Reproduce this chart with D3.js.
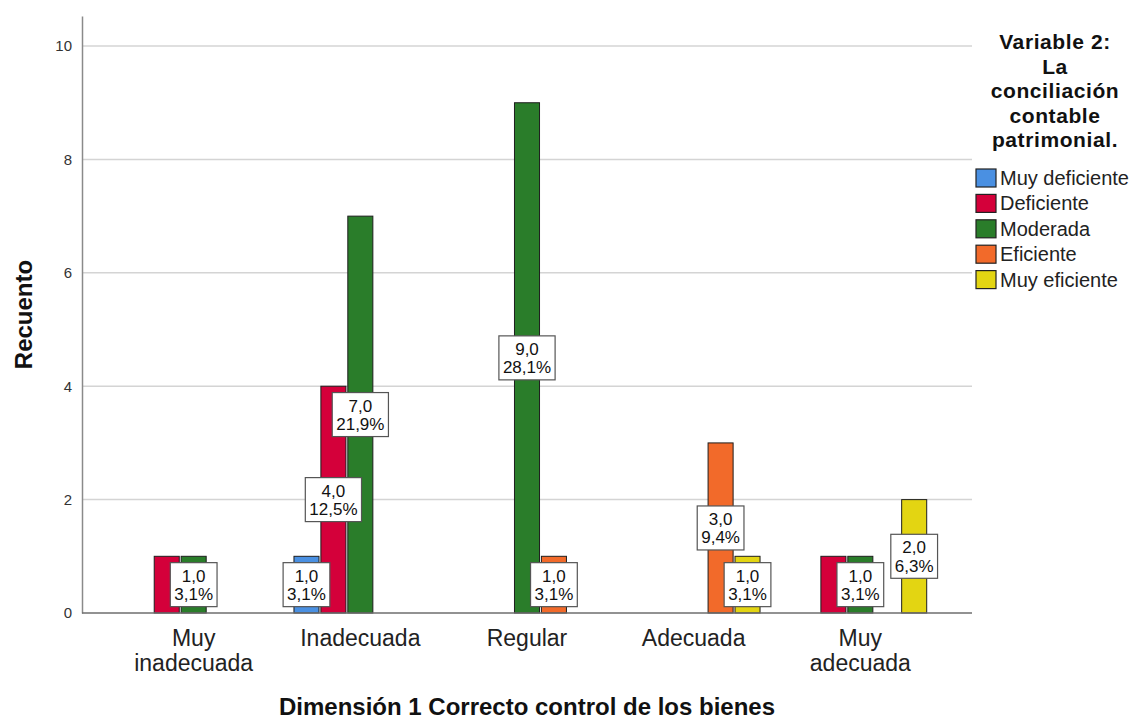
<!DOCTYPE html>
<html>
<head>
<meta charset="utf-8">
<script src="https://cdn.jsdelivr.net/npm/d3@7/dist/d3.min.js"></script>
<style>
  body { margin: 0; background: #fff; }
  svg { display: block; font-family: "Liberation Sans", Arial, sans-serif; }
</style>
</head>
<body>
<svg id="chart"></svg>
<script>
// categories on the x axis
const categories = ["Muy inadecuada", "Inadecuada", "Regular", "Adecuada", "Muy adecuada"];
// legend series
const series = ["Muy deficiente", "Deficiente", "Moderada", "Eficiente", "Muy eficiente"];
const seriesColors = ["#4a90e2", "#d4003a", "#2a7d2a", "#f26a2a", "#e3d512"];
// counts per series, one value per category
const muyDeficiente = [0, 1, 0, 0, 0];
const deficiente    = [1, 4, 0, 0, 1];
const moderada      = [1, 7, 9, 0, 1];
const eficiente     = [0, 0, 1, 3, 0];
const muyEficiente  = [0, 0, 0, 1, 2];
const yTicks = [0, 2, 4, 6, 8, 10];
const legendTitle = ["Variable 2:", "La", "conciliación", "contable", "patrimonial."];
const xTitle = "Dimensión 1 Correcto control de los bienes";
const yTitle = "Recuento";

const values = [muyDeficiente, deficiente, moderada, eficiente, muyEficiente];
const total = d3.sum(values.flat());

const W = 1132, H = 722;
const margin = {top: 16, right: 160, bottom: 109, left: 82};
const innerW = W - margin.left - margin.right;
const innerH = H - margin.top - margin.bottom;

const svg = d3.select("#chart").attr("width", W).attr("height", H);
const g = svg.append("g").attr("transform", `translate(${margin.left},${margin.top})`);

const x = d3.scaleBand().domain(categories).range([0, innerW]).paddingInner(0).paddingOuter(0.17);
const xs = d3.scaleBand().domain(series).range([0, x.bandwidth()]).paddingInner(0.07).paddingOuter(0.63);
const y = d3.scaleLinear().domain([0, 10.53]).range([innerH, 0]);
const color = d3.scaleOrdinal().domain(series).range(seriesColors);

// gridlines
g.append("g")
    .selectAll("line")
    .data(yTicks.filter(d => d > 0))
    .join("line")
    .attr("x1", 0).attr("x2", innerW)
    .attr("y1", d => y(d)).attr("y2", d => y(d))
    .style("stroke", "#d4d4d4")
    .style("stroke-width", 1.5);

// y axis
const yAxis = g.append("g")
    .call(d3.axisLeft(y).tickValues(yTicks).tickSize(0).tickPadding(10).tickFormat(d3.format("d")));
yAxis.select(".domain").style("stroke", "#8a8a8a").style("stroke-width", 1.5);
yAxis.selectAll("text").style("font-size", "15px").style("fill", "#333").style("font-family", "Liberation Sans, Arial, sans-serif");

// bars
const rows = [];
categories.forEach((c, ci) => {
    series.forEach((s, si) => {
        const v = values[si][ci];
        if (v > 0) rows.push({cat: c, ser: s, value: v});
    });
});

g.append("g")
    .selectAll("rect")
    .data(rows)
    .join("rect")
    .attr("x", d => x(d.cat) + xs(d.ser))
    .attr("y", d => y(d.value))
    .attr("width", xs.bandwidth())
    .attr("height", d => y(0) - y(d.value))
    .style("fill", d => color(d.ser))
    .style("stroke", "#1e1e1e")
    .style("stroke-width", 1);

// x axis line
g.append("line")
    .attr("x1", 0).attr("x2", innerW)
    .attr("y1", y(0)).attr("y2", y(0))
    .style("stroke", "#6e6e6e")
    .style("stroke-width", 1.5);

// category labels
const catLab = g.append("g").selectAll("text")
    .data(categories)
    .join("text")
    .attr("x", d => x(d) + x.bandwidth() / 2)
    .attr("y", innerH + 33)
    .attr("text-anchor", "middle")
    .style("font-size", "23px")
    .style("fill", "#222");
catLab.each(function(d) {
    const parts = d.split(" ");
    d3.select(this).selectAll("tspan")
        .data(parts)
        .join("tspan")
        .attr("x", x(d) + x.bandwidth() / 2)
        .attr("dy", (p, i) => i === 0 ? 0 : 25)
        .text(p => p);
});

// data labels (boxes), drop earlier label when two boxes collide
const fmt = v => d3.format(".1f")(v).replace(".", ",");
const labels = rows.map(d => {
    const cx = x(d.cat) + xs(d.ser) + xs.bandwidth() / 2;
    const cy = (y(d.value) + y(0)) / 2;
    return {cx, cy, l1: fmt(d.value), l2: fmt(d.value / total * 100) + "%"};
});
const lg = g.append("g");
const kept = [];
labels.forEach(lb => {
    const t = lg.append("text").style("font-size", "17px").style("fill", "#111").attr("text-anchor", "middle");
    t.append("tspan").attr("x", lb.cx).attr("y", lb.cy - 3).text(lb.l1);
    t.append("tspan").attr("x", lb.cx).attr("y", lb.cy + 15.5).text(lb.l2);
    const bw = t.node().getBBox().width + 8;
    lb.box = {x0: lb.cx - bw / 2, x1: lb.cx + bw / 2, y0: lb.cy - 22, y1: lb.cy + 22};
    lb.node = t;
    for (let i = kept.length - 1; i >= 0; i--) {
        const o = kept[i].box;
        if (o.x0 < lb.box.x1 && lb.box.x0 < o.x1 && o.y0 < lb.box.y1 && lb.box.y0 < o.y1) {
            kept[i].node.remove();
            kept.splice(i, 1);
        }
    }
    kept.push(lb);
});
kept.forEach(lb => {
    lg.insert("rect", () => lb.node.node())
        .attr("x", lb.box.x0).attr("y", lb.box.y0)
        .attr("width", lb.box.x1 - lb.box.x0).attr("height", lb.box.y1 - lb.box.y0)
        .style("fill", "#fff")
        .style("stroke", "#555")
        .style("stroke-width", 1.2);
});

// axis titles
svg.append("text")
    .attr("x", margin.left + innerW / 2)
    .attr("y", 715)
    .attr("text-anchor", "middle")
    .style("font-size", "24px")
    .style("font-weight", "bold")
    .style("fill", "#111")
    .text(xTitle);

svg.append("text")
    .attr("transform", `translate(32,${margin.top + innerH / 2}) rotate(-90)`)
    .attr("text-anchor", "middle")
    .style("font-size", "24px")
    .style("font-weight", "bold")
    .style("fill", "#111")
    .text(yTitle);

// legend
const legend = svg.append("g");
legend.append("text")
    .attr("text-anchor", "middle")
    .style("font-size", "21px")
    .style("font-weight", "bold")
    .style("letter-spacing", "0.6px")
    .style("fill", "#111")
    .selectAll("tspan")
    .data(legendTitle)
    .join("tspan")
    .attr("x", 1055)
    .attr("y", (d, i) => 49 + i * 24.5)
    .text(d => d);

const items = legend.selectAll("g.item")
    .data(series)
    .join("g")
    .attr("class", "item")
    .attr("transform", (d, i) => `translate(976,${169 + i * 25.4})`);
items.append("rect")
    .attr("width", 20).attr("height", 18)
    .style("fill", d => color(d))
    .style("stroke", "#222")
    .style("stroke-width", 1.2);
items.append("text")
    .attr("x", 24).attr("y", 16)
    .style("font-size", "20px")
    .style("fill", "#222")
    .text(d => d);
</script>
</body>
</html>
